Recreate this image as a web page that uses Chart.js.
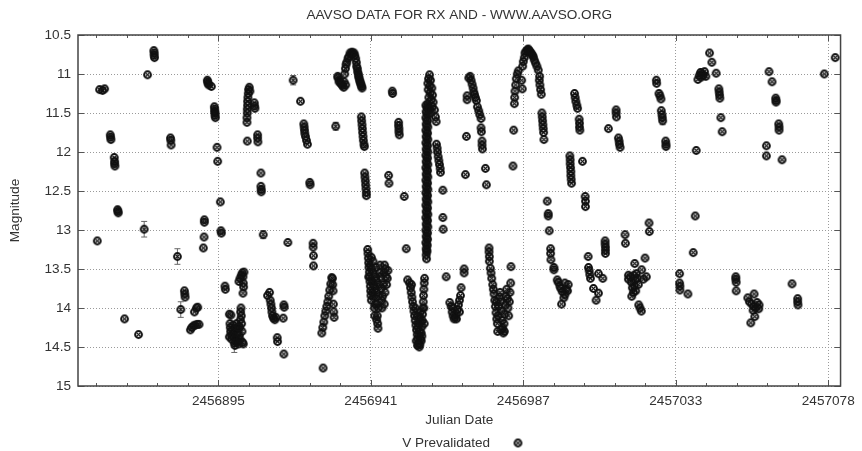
<!DOCTYPE html>
<html><head><meta charset="utf-8">
<script src="https://cdn.jsdelivr.net/npm/chart.js@4.4.1/dist/chart.umd.min.js"></script>
<style>html,body{margin:0;padding:0;background:#fff}canvas{display:block}</style>
</head><body>
<canvas id="c" width="862" height="451"></canvas>
<script>
// Julian Date = JD_ORIGIN + day offset
const JD_ORIGIN = 2456850;
const chartTitle = 'AAVSO DATA FOR RX AND - WWW.AAVSO.ORG';
const xTitle = 'Julian Date';
const yTitle = 'Magnitude';
const seriesLabel = 'V Prevalidated';
const xMin = 2456852.8, xMax = 2457082.1;
const yMin = 10.5, yMax = 15;
const xTickValues = [2456895.0, 2456940.85, 2456986.7, 2457032.55, 2457078.4];
const xTickLabels = ['2456895', '2456941', '2456987', '2457033', '2457078'];
const yTickValues = [10.5, 11, 11.5, 12, 12.5, 13, 13.5, 14, 14.5, 15];
const yTickLabels = ['10.5', '11', '11.5', '12', '12.5', '13', '13.5', '14', '14.5', '15'];

// [day offset, V magnitude]
const observations = [
[9.3,11.2],[10.2,11.21],[10.8,11.19],
[12.5,11.78],[12.6,11.81],[12.7,11.84],
[13.7,12.07],[13.8,12.12],[13.8,12.15],[13.9,12.18],
[14.7,12.74],[14.8,12.76],[14.9,12.78],
[8.6,13.14],[16.8,14.14],[21.0,14.34],[22.7,12.99],[23.7,11.01],
[25.6,10.70],[25.7,10.73],[25.7,10.76],[25.8,10.79],
[30.6,11.82],[30.7,11.85],[30.8,11.91],
[32.7,13.34],[33.7,14.02],
[34.8,13.78],[34.9,13.82],[35.0,13.86],
[36.6,14.28],[37.0,14.25],[37.5,14.23],[38.0,14.22],[38.6,14.21],[39.2,14.21],
[37.8,14.05],[38.4,14.0],[38.8,13.99],
[40.8,12.87],[40.8,12.9],[40.7,13.09],[40.5,13.23],
[41.7,11.08],[41.8,11.1],[41.9,11.12],[42.1,11.14],[42.9,11.16],
[43.8,11.42],[43.9,11.45],[43.9,11.48],[44.0,11.5],[44.0,11.53],[44.1,11.56],
[44.6,11.94],[44.8,12.12],[45.6,12.64],[45.8,13.01],[45.9,13.04],
[47.0,13.72],[47.1,13.76],
[48.3,14.08],[48.5,14.2],[48.6,14.25],[48.7,14.3],[48.9,14.35],[49.0,14.4],[49.2,14.28],[49.4,14.22],
[49.6,14.3],[49.8,14.45],[50.0,14.48],[50.2,14.38],[50.3,14.26],[50.5,14.2],[50.7,14.32],[50.9,14.42],
[51.1,14.46],[51.3,14.35],[51.4,14.25],[51.6,14.15],[51.7,14.05],[51.8,14.0],[51.9,14.1],[52.0,14.2],
[52.1,14.3],[52.3,14.44],[52.5,14.46],[48.8,14.09],[48.3,14.37],[49.5,14.36],[50.4,14.44],[51.0,14.25],[51.5,14.4],
[51.2,13.66],[51.5,13.62],[51.9,13.58],[52.2,13.55],[52.4,13.6],[52.5,13.68],[52.6,13.73],[52.4,13.81],[52.7,13.54],
[53.6,11.62],[53.6,11.56],[53.7,11.5],[53.7,11.45],[53.8,11.4],[53.8,11.35],[53.9,11.3],[54.0,11.25],[54.1,11.2],[54.3,11.17],[54.5,11.22],
[53.7,11.86],[55.8,11.37],[55.9,11.41],[56.0,11.44],
[56.8,11.78],[56.8,11.82],[56.9,11.87],
[57.8,12.27],[57.8,12.44],[57.9,12.48],[57.9,12.51],
[58.5,13.06],
[59.8,13.84],[60.4,13.8],[60.6,13.9],[60.8,13.95],[61.0,14.0],[61.1,14.05],[61.3,14.1],[61.6,14.13],[62.0,14.15],[62.3,14.12],
[62.7,14.38],[62.8,14.43],[64.7,13.96],[64.8,13.99],[64.5,14.13],[64.7,14.59],[65.9,13.16],
[67.5,11.08],[69.7,11.35],
[70.7,11.64],[70.8,11.68],[70.9,11.72],[71.0,11.76],[71.2,11.8],[71.5,11.85],[71.8,11.9],
[72.5,12.39],[72.6,12.42],
[73.5,13.17],[73.5,13.22],[73.6,13.33],[73.6,13.46],
[76.5,14.77],
[76.1,14.32],[76.4,14.25],[76.7,14.18],[77.0,14.1],[77.3,14.04],[77.6,13.98],[77.9,13.92],[78.2,13.85],[78.5,13.77],[78.8,13.69],[79.1,13.61],
[79.3,13.62],[79.4,13.7],[79.5,13.78],[79.6,13.95],[79.7,14.05],[79.8,14.12],
[80.3,11.67],
[80.9,11.03],[81.0,11.05],[81.3,11.1],[81.5,11.08],[81.8,11.12],[82.1,11.13],[82.3,11.15],[82.7,11.17],[82.8,11.1],[83.3,11.14],
[83.0,11.0],[83.2,10.93],[83.4,10.88],[83.6,10.85],[84.0,10.8],[84.2,10.78],[84.6,10.73],[84.8,10.75],[85.2,10.72],[85.4,10.74],[85.8,10.73],[86.0,10.76],
[86.3,10.8],[86.5,10.85],[86.6,10.9],[86.8,10.93],[86.9,10.97],[87.1,11.0],[87.2,11.03],[87.3,11.05],[87.5,11.08],[87.6,11.1],[87.8,11.12],[87.9,11.14],[88.1,11.16],[88.2,11.18],
[88.0,11.55],[88.1,11.6],[88.2,11.65],[88.3,11.7],[88.4,11.75],[88.5,11.8],[88.6,11.85],[88.8,11.9],[88.9,11.93],
[89.0,12.27],[89.1,12.32],[89.2,12.37],[89.3,12.42],[89.4,12.47],[89.5,12.52],[89.5,12.56],
[89.9,13.25],[90.0,13.3],[90.1,13.36],[90.2,13.42],[90.3,13.48],[90.4,13.54],[90.5,13.6],[90.6,13.66],[90.7,13.72],[90.8,13.78],[90.9,13.84],[91.0,13.9],
[90.2,13.6],[90.6,13.45],[91.1,13.5],[91.2,13.65],[91.3,13.8],[91.0,13.35],
[91.5,13.4],[91.6,13.55],[91.7,13.7],[91.8,13.85],[91.9,14.0],[92.0,14.1],[92.1,13.95],[92.2,13.75],[92.3,13.6],[92.4,13.48],[92.5,13.65],
[92.6,13.8],[92.7,13.95],[92.8,14.1],[92.9,14.2],[93.0,14.26],[92.6,14.15],[93.1,14.0],[93.2,13.85],[93.3,13.7],[93.4,13.55],
[93.6,13.45],[93.8,13.6],[94.0,13.75],[94.1,13.9],[94.2,14.0],[94.4,13.85],[94.6,13.7],[94.8,13.55],[95.0,13.45],[95.2,13.5],
[95.4,13.6],[95.6,13.7],[95.8,13.62],[96.0,13.52],[95.1,13.8],[94.9,13.95],
[96.2,12.3],[96.3,12.4],[97.3,11.22],[97.4,11.25],
[99.2,11.62],[99.2,11.66],[99.3,11.7],[99.3,11.74],[99.4,11.78],
[100.9,12.57],[101.5,13.24],
[101.9,13.64],[102.5,13.68],[102.8,13.74],[103.0,13.8],[103.2,13.86],[103.4,13.92],[103.6,13.98],[103.8,14.04],[103.1,13.7],
[104.0,14.1],[104.2,14.16],[104.4,14.22],[104.6,14.28],[104.8,14.34],[105.0,14.4],[105.2,14.45],[105.4,14.5],[105.6,14.47],
[105.8,14.4],[106.0,14.32],[106.2,14.24],[106.3,14.16],[106.4,14.08],[106.5,14.0],[106.6,13.92],[106.7,13.84],[106.8,13.76],[106.9,13.68],[107.0,13.62],
[104.2,14.0],[104.8,14.1],[105.2,14.2],[105.6,14.3],[106.0,14.42],[104.5,14.42],[105.0,14.25],[105.5,14.12],[106.2,14.36],[106.8,14.0],[106.9,14.2],
[105.3,14.35],[105.9,14.18],[104.9,14.48],[105.7,14.05],
[107.4,11.40],[107.9,11.44],[107.5,11.48],[108.0,11.52],[107.4,11.56],[107.9,11.60],[107.5,11.64],[108.0,11.68],[107.4,11.72],[107.9,11.76],
[107.5,11.80],[108.0,11.84],[107.4,11.88],[107.9,11.92],[107.5,11.96],[108.0,12.00],[107.4,12.04],[107.9,12.08],[107.5,12.12],[108.0,12.16],
[107.4,12.20],[107.9,12.24],[107.5,12.28],[108.0,12.32],[107.4,12.36],[107.9,12.40],[107.5,12.44],[108.0,12.48],[107.4,12.52],[107.9,12.56],
[107.5,12.60],[108.0,12.64],[107.4,12.68],[107.9,12.72],[107.5,12.76],[108.0,12.80],[107.4,12.84],[107.9,12.88],[107.5,12.92],[108.0,12.96],
[107.4,13.00],[107.9,13.04],[107.5,13.08],[107.9,13.12],[107.4,13.16],[107.8,13.20],[107.5,13.24],[107.7,13.28],[107.5,13.32],[107.6,13.37],
[107.7,11.42],[107.7,11.50],[107.7,11.58],[107.7,11.66],[107.7,11.74],[107.7,11.82],[107.7,11.90],[107.7,11.98],[107.7,12.06],[107.7,12.14],
[107.7,12.22],[107.7,12.30],[107.7,12.38],[107.7,12.46],[107.7,12.54],[107.7,12.62],[107.7,12.70],[107.7,12.78],[107.7,12.86],[107.7,12.94],
[107.7,13.02],[107.7,13.10],[107.7,13.18],[107.7,13.26],
[108.5,11.01],[108.2,11.06],[108.8,11.08],[108.0,11.12],[108.6,11.15],[109.2,11.18],[108.1,11.2],[108.7,11.24],[109.4,11.27],[108.3,11.3],
[109.0,11.33],[109.6,11.36],[108.0,11.38],[109.3,11.42],[110.0,11.46],[110.3,11.55],[110.5,11.61],[109.0,11.5],[108.5,11.45],
[110.6,11.9],[110.8,11.95],[110.9,12.0],[111.1,12.06],[111.3,12.11],[111.5,12.16],[111.7,12.21],[111.8,12.26],
[112.5,12.49],[112.5,12.84],[112.6,12.99],[113.5,13.6],
[114.6,13.93],[115.0,13.98],[115.3,14.05],[115.6,14.1],[115.9,14.14],[116.2,14.12],[116.5,14.08],[116.9,14.02],[117.2,13.96],
[117.5,13.9],[117.8,13.84],[118.0,13.74],[118.9,13.5],[118.9,13.55],[115.5,14.0],[116.6,14.14],[117.5,14.05],
[119.3,12.29],[119.6,11.8],[119.8,11.28],[119.8,11.33],
[120.3,11.05],[120.7,11.03],[121.0,11.08],[121.3,11.13],[121.6,11.18],[121.8,11.23],[122.0,11.26],[122.3,11.3],[122.6,11.34],
[122.9,11.42],[123.3,11.47],[123.6,11.52],[124.0,11.57],[124.0,11.69],[124.1,11.74],[124.3,11.86],[124.3,11.91],[124.4,11.96],
[125.3,12.21],[125.6,12.42],
[126.4,13.23],[126.4,13.28],[126.5,13.34],[126.5,13.4],
[126.8,13.49],[127.0,13.55],[127.2,13.62],[127.5,13.7],[127.7,13.76],
[127.9,13.82],[128.1,13.9],[128.3,13.98],[128.5,14.06],[128.7,14.14],[128.9,14.2],[129.1,14.1],[129.3,13.98],[129.5,13.86],[129.7,13.8],
[129.9,13.92],[130.1,14.04],[130.3,14.16],[130.5,14.26],[130.7,14.32],[130.9,14.2],[131.1,14.08],[131.3,13.96],[131.5,13.85],[131.7,13.76],
[131.9,13.88],[132.1,14.0],[132.3,14.1],[132.5,13.92],[132.7,13.8],[132.9,13.68],[133.0,13.47],[128.6,13.92],[130.0,14.28],[131.0,14.3],[129.0,14.3],
[133.8,11.72],[133.6,12.18],
[134.0,11.38],[134.1,11.3],[134.2,11.22],[134.4,11.14],[134.6,11.06],[134.9,11.0],[135.2,10.96],[136.2,11.08],[136.4,11.19],
[136.5,10.9],[136.7,10.84],[137.0,10.79],[137.2,10.73],[137.5,10.71],[137.9,10.69],[138.2,10.68],[138.5,10.7],[138.9,10.72],
[139.2,10.74],[139.5,10.76],[139.7,10.78],[140.0,10.82],[140.4,10.86],[140.8,10.9],[141.2,10.95],[141.6,11.03],
[141.5,11.08],[141.7,11.14],[141.9,11.2],[142.1,11.26],
[142.3,11.5],[142.4,11.55],[142.5,11.6],[142.6,11.65],[142.7,11.7],[142.8,11.75],[142.9,11.84],
[143.9,12.63],[144.2,12.79],[144.2,12.82],[144.5,13.01],[144.9,13.24],[144.9,13.3],[145.0,13.38],[145.9,13.48],[145.9,13.51],
[146.9,13.64],[147.2,13.67],[147.7,13.72],[148.0,13.75],[148.4,13.79],[149.2,13.68],[150.2,13.7],[148.2,13.95],[148.9,13.87],[149.2,13.83],[149.6,13.76],[150.0,13.78],
[150.7,12.05],[150.8,12.1],[150.8,12.15],[150.9,12.2],[151.0,12.25],[151.0,12.3],[151.1,12.35],[151.2,12.4],
[152.1,11.25],[152.3,11.3],[152.5,11.35],[152.8,11.4],[153.0,11.44],
[153.5,11.58],[153.6,11.63],[153.6,11.68],[153.7,11.72],
[154.5,12.12],[155.3,12.57],[155.4,12.63],[155.4,12.7],
[156.2,13.34],[156.3,13.48],[156.5,13.52],[156.7,13.57],[156.9,13.62],
[157.8,13.75],[158.6,13.9],[159.3,13.81],[159.3,13.56],[160.6,13.62],
[161.3,13.14],[161.3,13.18],[161.4,13.22],[161.4,13.26],[161.4,13.3],
[162.3,11.7],[164.6,11.46],[164.6,11.5],[164.7,11.55],
[165.3,11.82],[165.5,11.86],[165.6,11.9],[165.8,11.94],
[167.3,13.06],[167.4,13.17],
[168.3,13.58],[168.3,13.63],[168.9,13.6],[169.2,13.67],[169.5,13.74],[169.8,13.8],[170.1,13.72],[170.4,13.64],[170.7,13.56],
[171.0,13.62],[171.3,13.7],[169.3,13.85],[170.0,13.58],[170.5,13.78],[170.2,13.43],
[171.4,13.96],[171.8,14.0],[172.2,14.04],[172.3,13.51],[172.8,13.63],[173.3,13.36],[173.7,13.6],[174.5,12.91],[174.6,13.02],
[176.7,11.08],[176.8,11.12],[177.5,11.25],[177.8,11.28],[178.1,11.32],
[178.2,11.47],[178.4,11.52],[178.5,11.56],[178.6,11.6],
[179.5,11.86],[179.6,11.9],[179.6,11.93],
[183.7,13.56],[183.7,13.68],[183.8,13.72],[183.8,13.77],
[186.2,13.82],[187.8,13.29],[188.4,12.82],[188.7,11.98],
[189.2,11.07],[189.6,11.02],[190.0,10.98],[190.4,10.99],[190.8,11.02],[191.2,10.97],[191.6,11.03],[190.2,11.04],
[192.7,10.73],[193.4,10.85],[194.7,10.99],[195.5,11.19],[195.6,11.23],[195.7,11.27],[195.8,11.31],[196.1,11.56],[196.5,11.74],
[200.6,13.6],[200.6,13.63],[200.7,13.67],[200.7,13.78],
[204.2,13.87],[204.7,13.92],[205.4,13.95],[206.0,13.98],[206.6,14.0],[207.5,14.01],[206.1,13.82],[206.3,14.11],[205.1,14.19],[207.0,13.93],[207.6,13.96],[205.8,14.03],
[209.8,11.92],[209.8,12.05],[210.6,10.97],[211.5,11.1],
[212.6,11.31],[212.7,11.34],[212.7,11.36],
[213.5,11.64],[213.6,11.68],[213.6,11.72],[214.5,12.1],
[217.5,13.69],[219.2,13.88],[219.2,13.92],[219.3,13.96],
[227.2,11.0],[230.5,10.79]
];

// [day offset, magnitude, uncertainty]
const errorBars = [
[22.7,12.99,0.1],[32.7,13.34,0.1],[33.7,14.02,0.1],[49.8,14.49,0.08],
[58.5,13.06,0.05],[67.5,11.08,0.06],[80.3,11.67,0.05],[178.6,11.6,0.05]
];

const FONT = "'Liberation Sans', Arial, Helvetica, sans-serif";
const TEXT = '#333';

function makeMarker() {
  const c = document.createElement('canvas');
  c.width = 11; c.height = 11;
  const g = c.getContext('2d');
  g.strokeStyle = '#111';
  g.lineWidth = 2;
  g.beginPath(); g.arc(5.5, 5.5, 3.4, 0, Math.PI * 2); g.stroke();
  g.lineWidth = 1.2;
  g.beginPath();
  g.moveTo(3.6, 3.6); g.lineTo(7.4, 7.4);
  g.moveTo(7.4, 3.6); g.lineTo(3.6, 7.4);
  g.stroke();
  return c;
}
const marker = makeMarker();

const gnuplotFrame = {
  id: 'gnuplotFrame',
  beforeDatasetsDraw(chart) {
    const { ctx, scales: { x, y } } = chart;
    ctx.save();
    ctx.strokeStyle = '#666';
    ctx.lineWidth = 1;
    ctx.beginPath();
    errorBars.forEach(([d, m, e]) => {
      const px = x.getPixelForValue(JD_ORIGIN + d);
      const y1 = y.getPixelForValue(m - e), y2 = y.getPixelForValue(m + e);
      ctx.moveTo(px, y1); ctx.lineTo(px, y2);
      ctx.moveTo(px - 3, y1); ctx.lineTo(px + 3, y1);
      ctx.moveTo(px - 3, y2); ctx.lineTo(px + 3, y2);
    });
    ctx.stroke();
    ctx.restore();
  },
  afterDraw(chart) {
    const { ctx, chartArea: a, scales: { x, y } } = chart;
    ctx.save();
    ctx.strokeStyle = '#555';
    ctx.lineWidth = 1;
    ctx.beginPath();
    const major = 6, minor = 3;
    const step = (xTickValues[1] - xTickValues[0]) / 5;
    for (let k = -30; k <= 40; k++) {
      const v = xTickValues[0] + k * step;
      if (v < x.min || v > x.max) continue;
      const len = (k % 5 === 0) ? major : minor;
      const p = Math.round(x.getPixelForValue(v)) + 0.5;
      ctx.moveTo(p, a.bottom); ctx.lineTo(p, a.bottom - len);
      ctx.moveTo(p, a.top); ctx.lineTo(p, a.top + len);
    }
    yTickValues.forEach(v => {
      const p = Math.round(y.getPixelForValue(v)) + 0.5;
      ctx.moveTo(a.left, p); ctx.lineTo(a.left + major, p);
      ctx.moveTo(a.right, p); ctx.lineTo(a.right - major, p);
    });
    ctx.stroke();
    ctx.strokeStyle = '#444';
    ctx.lineWidth = 1.5;
    ctx.strokeRect(a.left, a.top, a.right - a.left, a.bottom - a.top);

    // title centred over the plot area (gnuplot style)
    ctx.font = '13.6px ' + FONT;
    ctx.fillStyle = TEXT;
    ctx.textAlign = 'center';
    ctx.textBaseline = 'middle';
    ctx.fillText(chartTitle, (a.left + a.right) / 2, 15);

    // legend: text then sample marker
    const ds = chart.data.datasets[0];
    ctx.font = '13.5px ' + FONT;
    ctx.textAlign = 'right';
    const ly = 443;
    ctx.fillText(ds.label, 490, ly);
    ctx.drawImage(marker, 518 - marker.width / 2, ly - marker.height / 2);
    ctx.restore();
  }
};

const points = observations.map(([d, m]) => ({ x: JD_ORIGIN + d, y: m }));

new Chart(document.getElementById('c'), {
  type: 'scatter',
  data: {
    datasets: [{
      label: seriesLabel,
      data: points,
      pointStyle: marker,
      pointRadius: 4,
      pointHoverRadius: 4,
      showLine: false
    }]
  },
  options: {
    responsive: false,
    animation: false,
    events: [],
    layout: { padding: { left: 0, right: 18, top: 35, bottom: 20 } },
    plugins: {
      legend: { display: false },
      tooltip: { enabled: false },
      title: { display: false }
    },
    scales: {
      x: {
        type: 'linear',
        min: xMin, max: xMax,
        afterBuildTicks: s => { s.ticks = xTickValues.map(v => ({ value: v })); },
        afterFit: s => { s.height = 45; },
        ticks: {
          autoSkip: false, maxRotation: 0,
          callback: v => xTickLabels[xTickValues.indexOf(v)],
          color: TEXT,
          font: { family: FONT, size: 13.6 },
          padding: 7
        },
        grid: { color: '#9a9a9a', lineWidth: 1, drawTicks: false },
        border: { display: false, dash: [1, 2] },
        title: {
          display: true, text: xTitle, color: TEXT,
          font: { family: FONT, size: 13.6 },
          padding: { top: 0, bottom: 2.8 }
        }
      },
      y: {
        type: 'linear',
        reverse: true,
        min: yMin, max: yMax,
        afterBuildTicks: s => { s.ticks = yTickValues.map(v => ({ value: v })); },
        afterFit: s => { s.width = 78; },
        ticks: {
          autoSkip: false,
          callback: v => yTickLabels[yTickValues.indexOf(v)],
          color: TEXT,
          font: { family: FONT, size: 13.6 },
          padding: 7
        },
        grid: { color: '#9a9a9a', lineWidth: 1, drawTicks: false },
        border: { display: false, dash: [1, 2] },
        title: {
          display: true, text: yTitle, color: TEXT,
          font: { family: FONT, size: 13.6 },
          padding: { top: 6.8, bottom: 0 }
        }
      }
    }
  },
  plugins: [gnuplotFrame]
});
</script>
</body></html>
